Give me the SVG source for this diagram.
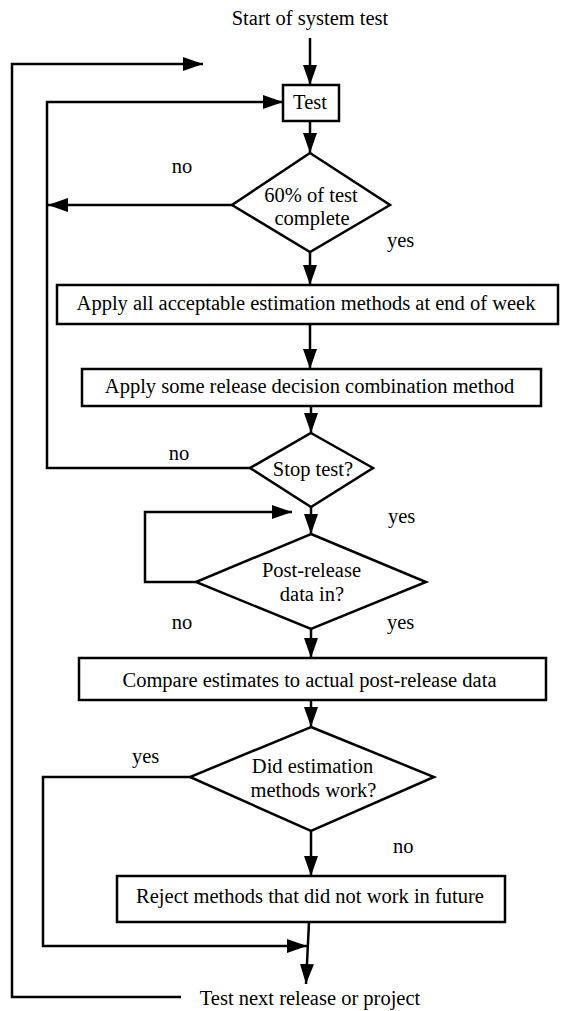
<svg xmlns="http://www.w3.org/2000/svg" width="561" height="1011" viewBox="0 0 561 1011">
<style>
text{font-family:'Liberation Serif','DejaVu Serif',Times,serif;font-size:20.5px;fill:#000}
.c{text-anchor:middle}
.shape{fill:#fff;stroke:#000;stroke-width:2.5}
.ar{fill:none;stroke:#000;stroke-width:2.5;marker-end:url(#ah)}
</style>
<defs>
<marker id="ah" markerUnits="userSpaceOnUse" markerWidth="20" markerHeight="14" refX="20" refY="7" orient="auto" viewBox="0 0 20 14">
<path d="M0,0 L20,7 L0,14 z" fill="#000"/>
</marker>
</defs>
<rect width="561" height="1011" fill="#fff"/>
<g id="connectors">
<line class="ar" x1="310" y1="38" x2="310" y2="85"/>
<polyline class="ar" points="181,997 12,997 12,64 203,64"/>
<polyline class="ar" points="250,468 47,468 47,102 283,102"/>
<line class="ar" x1="310" y1="121" x2="310" y2="153"/>
<line class="ar" x1="232" y1="205" x2="48" y2="205"/>
<line class="ar" x1="310" y1="252" x2="310" y2="285"/>
<line class="ar" x1="310" y1="324" x2="310" y2="369"/>
<line class="ar" x1="311" y1="406" x2="311" y2="433"/>
<line class="ar" x1="311" y1="507" x2="311" y2="534"/>
<polyline class="ar" points="196,582 145,582 145,512 292,512"/>
<line class="ar" x1="311" y1="629" x2="311" y2="658"/>
<line class="ar" x1="311" y1="700" x2="311" y2="727"/>
<line class="ar" x1="311" y1="831" x2="311" y2="876"/>
<polyline class="ar" points="190,777 43,777 43,946 307,946"/>
<line class="ar" x1="309" y1="922" x2="306" y2="984"/>
</g>
<g id="start"><text class="c" x="310" y="25">Start of system test</text></g>
<g id="test"><rect class="shape" x="283" y="85" width="56" height="36"/><text class="c" x="310" y="109">Test</text></g>
<g id="d60"><polygon class="shape" points="310,153 390,205 310,252 232,205"/><text class="c" x="311" y="202">60% of test</text><text class="c" x="312" y="225">complete</text></g>
<g id="lbl1"><text class="c" x="182" y="173">no</text><text x="387" y="247">yes</text></g>
<g id="apply"><rect class="shape" x="57" y="285" width="501" height="39"/><text class="c" x="306" y="310">Apply all acceptable estimation methods at end of week</text></g>
<g id="combine"><rect class="shape" x="82" y="369" width="459" height="37"/><text class="c" x="309.5" y="393">Apply some release decision combination method</text></g>
<g id="stop"><polygon class="shape" points="311,433 373,468 311,507 250,468"/><text class="c" x="313" y="476">Stop test?</text></g>
<g id="lbl2"><text class="c" x="179" y="460">no</text><text x="388" y="523">yes</text></g>
<g id="post"><polygon class="shape" points="311,534 426,582 311,629 196,582"/><text class="c" x="311.5" y="577">Post-release</text><text class="c" x="312" y="601">data in?</text></g>
<g id="lbl3"><text class="c" x="182" y="629">no</text><text x="387" y="629">yes</text></g>
<g id="compare"><rect class="shape" x="79" y="658" width="467" height="42"/><text class="c" x="309.5" y="687">Compare estimates to actual post-release data</text></g>
<g id="did"><polygon class="shape" points="311,727 434,777 311,831 190,777"/><text class="c" x="312.5" y="773">Did estimation</text><text class="c" x="313.5" y="797">methods work?</text></g>
<g id="lbl4"><text x="132" y="763">yes</text><text x="393" y="853">no</text></g>
<g id="reject"><rect class="shape" x="117" y="876" width="388" height="46"/><text class="c" x="310" y="903">Reject methods that did not work in future</text></g>
<g id="next"><text class="c" x="310" y="1005">Test next release or project</text></g>
</svg>
